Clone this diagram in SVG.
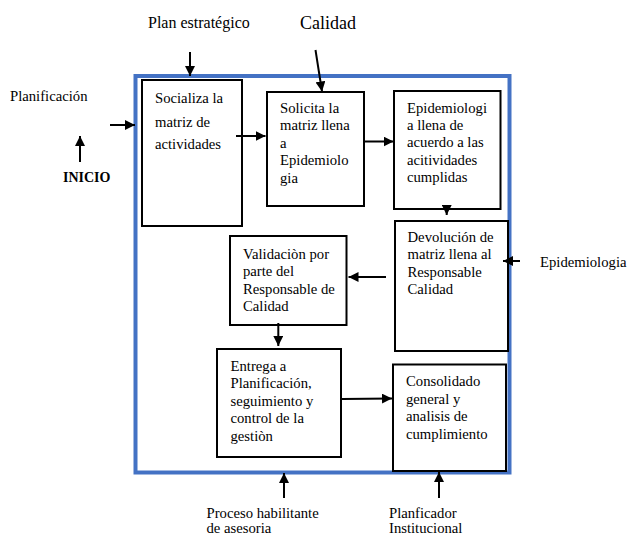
<svg xmlns="http://www.w3.org/2000/svg" width="628" height="536" viewBox="0 0 628 536" font-family="'Liberation Serif', 'Times New Roman', Times, serif">
<style>
text{font-family:'Liberation Serif','Times New Roman',Times,serif;font-size:14.7px;fill:#000}
.box{fill:#fff;stroke:#000;stroke-width:2}
.frame{fill:none;stroke:#4472C4;stroke-width:4}
.arr{stroke:#000;stroke-width:2;fill:none;marker-end:url(#ah)}
</style>
<defs>
<marker id="ah" markerUnits="userSpaceOnUse" markerWidth="10" markerHeight="10" refX="10" refY="5" orient="auto">
<path d="M0,0 L10,5 L0,10 z" fill="#000"/>
</marker>
</defs>
<rect width="628" height="536" fill="#fff"/>
<rect class="frame" x="135.5" y="76" width="374" height="396.5"/>

<g id="n1"><rect class="box" x="142" y="80" width="100" height="146"/>
<text x="155" y="103">Socializa la</text><text x="155" y="127">matriz de</text><text x="155" y="149">actividades</text></g>

<g id="n2"><rect class="box" x="267" y="92" width="97" height="114"/>
<text x="280" y="112.5">Solicita la</text><text x="280" y="130">matriz llena</text><text x="280" y="147.5">a</text><text x="280" y="165">Epidemiolo</text><text x="280" y="182.5">gia</text></g>

<g id="n3"><rect class="box" x="394" y="91" width="106.5" height="118"/>
<text x="407" y="112.5">Epidemiologi</text><text x="407" y="130">a llena de</text><text x="407" y="147">acuerdo a las</text><text x="407" y="164.5">acitividades</text><text x="407" y="182">cumplidas</text></g>

<g id="n4"><rect class="box" x="395" y="221" width="113" height="130"/>
<text x="407.5" y="241.5">Devolución de</text><text x="407.5" y="259">matriz llena al</text><text x="407.5" y="276.5">Responsable</text><text x="407.5" y="294">Calidad</text></g>

<g id="n5"><rect class="box" x="230" y="236" width="116.5" height="89"/>
<text x="243" y="258.5">Validaciòn por</text><text x="243" y="276">parte del</text><text x="243" y="293.5">Responsable de</text><text x="243" y="311">Calidad</text></g>

<g id="n6"><rect class="box" x="217" y="349" width="124" height="108"/>
<text x="230.5" y="370.5">Entrega a</text><text x="230.5" y="388">Planificación,</text><text x="230.5" y="405.5">seguimiento y</text><text x="230.5" y="423">control de la</text><text x="230.5" y="440.5">gestiòn</text></g>

<g id="n7"><rect class="box" x="393" y="364.5" width="113" height="106.5"/>
<text x="406" y="386">Consolidado</text><text x="406" y="403.5">general y</text><text x="406" y="421">analisis de</text><text x="406" y="438.5">cumplimiento</text></g>

<g id="labels">
<text x="148" y="28" style="font-size:16px">Plan estratégico</text>
<text x="300" y="29" style="font-size:18px">Calidad</text>
<text x="10" y="100.7">Planificación</text>
<text x="63" y="182" style="font-weight:bold;font-size:14px">INICIO</text>
<text x="540" y="266.5">Epidemiologia</text>
<text x="206.5" y="518">Proceso habilitante</text>
<text x="206.5" y="533">de asesoria</text>
<text x="389" y="518">Planficador</text>
<text x="389" y="533">Institucional</text>
</g>

<g id="connectors">
<line class="arr" x1="190" y1="52" x2="190" y2="76"/>
<line class="arr" x1="315.5" y1="50" x2="322" y2="91.5"/>
<line class="arr" x1="110" y1="125" x2="135" y2="125"/>
<line class="arr" x1="80" y1="162" x2="80" y2="136"/>
<line class="arr" x1="236" y1="136" x2="265.5" y2="136"/>
<line class="arr" x1="364" y1="141.5" x2="393.5" y2="141.5"/>
<line class="arr" x1="446.7" y1="206" x2="446.7" y2="215"/>
<line class="arr" x1="520" y1="261" x2="503" y2="261"/>
<line class="arr" x1="386" y1="277" x2="348.5" y2="277"/>
<line class="arr" x1="278.3" y1="323" x2="278.3" y2="346"/>
<line class="arr" x1="342" y1="399" x2="392" y2="398.5"/>
<line class="arr" x1="284" y1="498" x2="284" y2="473"/>
<line class="arr" x1="439" y1="498" x2="439" y2="472"/>
</g>
</svg>
